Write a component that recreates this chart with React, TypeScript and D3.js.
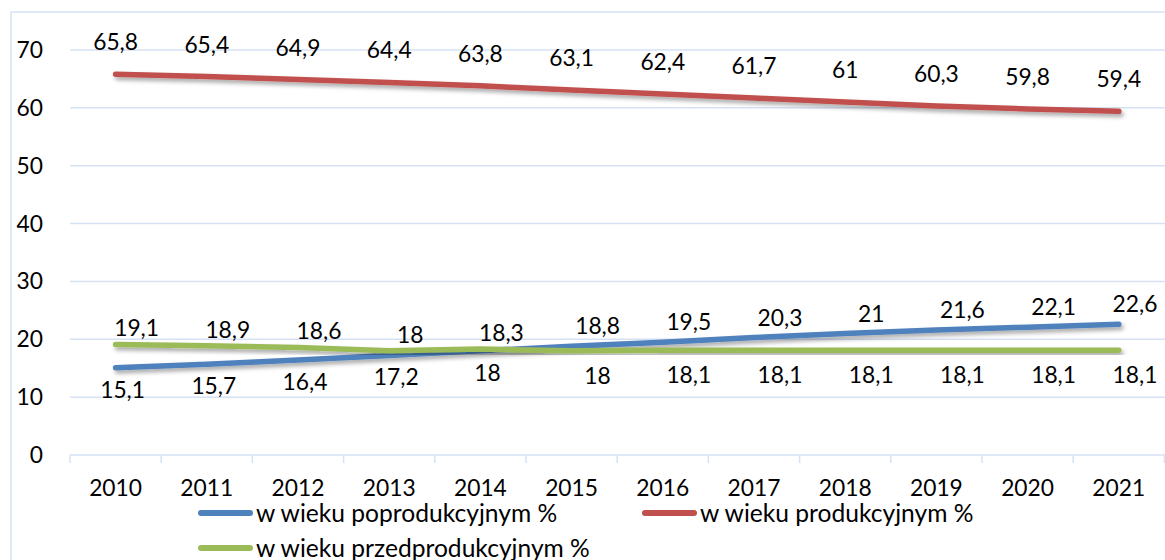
import React, { useEffect } from "react";
import * as d3 from "d3";

const years = ["2010","2011","2012","2013","2014","2015","2016","2017","2018","2019","2020","2021"];
const poprodukcyjny = [15.1, 15.7, 16.4, 17.2, 18, 18.8, 19.5, 20.3, 21, 21.6, 22.1, 22.6];
const produkcyjny = [65.8, 65.4, 64.9, 64.4, 63.8, 63.1, 62.4, 61.7, 61, 60.3, 59.8, 59.4];
const przedprodukcyjny = [19.1, 18.9, 18.6, 18, 18.3, 18, 18.1, 18.1, 18.1, 18.1, 18.1, 18.1];
const yTicks = [0, 10, 20, 30, 40, 50, 60, 70];
const seriesNames = ["w wieku poprodukcyjnym %", "w wieku produkcyjnym %", "w wieku przedprodukcyjnym %"];

const W = 1165, H = 560;
const FONT = "Lato, 'Open Sans', sans-serif";
const FS = 22.8;
const LFS = 24.6;
const plot = { left: 70, right: 1165, top: 50, bottom: 455 };
const colors = ["#4f81bd", "#c0504d", "#9bbb59"];
const grid = "#d6e2f4";

export default function App() {
  useEffect(() => { document.body.style.margin = "0"; }, []);
  const x = d3.scaleBand<string>().domain(years).range([plot.left, plot.left + 91.2 * 12]).padding(0);
  const y = d3.scaleLinear().domain([0, 70]).range([plot.bottom, plot.top]);
  const cx = (i: number) => (x(years[i]) as number) + x.bandwidth() / 2;
  const line = d3.line<number>().x((_, i) => cx(i)).y((d) => y(d));
  const seriesData = [poprodukcyjny, produkcyjny, przedprodukcyjny];

  const labelFor = (s: number, i: number) => {
    if (s === 1) return { dx: 0, dy: -32 };
    const blueAbove = poprodukcyjny[i] > przedprodukcyjny[i] + 0.4;
    if (s === 0) return blueAbove ? { dx: 26, dy: -20 } : { dx: 7, dy: 22 };
    return blueAbove ? { dx: 26, dy: 25 } : { dx: 21, dy: -16 };
  };

  const boundaries = d3.range(years.length + 1).map((k) => plot.left + k * x.bandwidth());

  return (
    <svg width={W} height={H} style={{ position: "absolute", left: 0, top: 0, background: "#fff" }} fontFamily={FONT}>
      <defs>
        <filter id="sh" x="-5%" y="-50%" width="110%" height="200%">
          <feDropShadow dx="2" dy="3" stdDeviation="2" floodColor="#000" floodOpacity="0.35" />
        </filter>
      </defs>
      <rect x={11} y={12} width={W + 20} height={H + 20} fill="none" stroke={grid} strokeWidth={1.5} />
      {yTicks.map((t) => (
        <g key={t}>
          <line x1={plot.left} x2={plot.right} y1={y(t)} y2={y(t)} stroke={grid} strokeWidth={1.5} />
          <text x={43} y={y(t) + 8} textAnchor="end" fontSize={FS} fill="#000">{t}</text>
        </g>
      ))}
      {boundaries.map((bx, k) => (
        <line key={k} x1={bx} x2={bx} y1={plot.bottom} y2={plot.bottom + 8} stroke={grid} strokeWidth={1.5} />
      ))}
      {years.map((yr, i) => (
        <text key={yr} x={cx(i)} y={496} textAnchor="middle" fontSize={FS} fill="#000">{yr}</text>
      ))}
      {seriesData.map((d, s) => (
        <path key={s} d={line(d) as string} fill="none" stroke={colors[s]} strokeWidth={5.5} strokeLinecap="round" strokeLinejoin="round" filter="url(#sh)" />
      ))}
      {seriesData.map((d, s) =>
        d.map((v, i) => {
          const o = labelFor(s, i);
          const lx = Math.min(cx(i) + o.dx, W - 30);
          return (
            <text key={s + "-" + i} x={lx} y={y(v) + o.dy + 8} textAnchor="middle" fontSize={FS} fill="#000">
              {String(v).replace(".", ",")}
            </text>
          );
        })
      )}
      {[
        { s: 0, x: 198, y: 513 },
        { s: 1, x: 642, y: 513 },
        { s: 2, x: 198, y: 548 },
      ].map((l) => (
        <g key={l.s}>
          <line x1={l.x + 3} x2={l.x + 52} y1={l.y} y2={l.y} stroke={colors[l.s]} strokeWidth={6} strokeLinecap="round" />
          <text x={l.x + 58} y={l.y + 8.5} fontSize={LFS} fill="#000">{seriesNames[l.s]}</text>
        </g>
      ))}
    </svg>
  );
}
